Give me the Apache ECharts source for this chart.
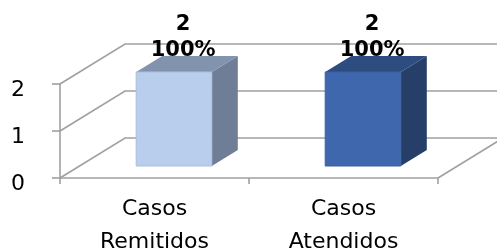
<!DOCTYPE html>
<html>
<head>
<meta charset="utf-8">
<script src="https://cdn.jsdelivr.net/npm/echarts@6/dist/echarts.min.js"></script>
<style>
  html, body { margin: 0; padding: 0; background: #fff; }
  #chart { width: 497px; height: 252px; }
</style>
</head>
<body>
<div id="chart"></div>
<script>
var categories = ['Casos Remitidos', 'Casos Atendidos'];
var values = [2, 2];
var percents = ['100%', '100%'];
var yTicks = [0, 1, 2];

// colores de cada barra: frente, lado, tapa
var frontColors = ['#b9cdec', '#3e67ad'];
var sideColors = ['#6f7e96', '#263f69'];
var topColors = ['#8293ae', '#2d4c7f'];

// desplazamiento de la pared del fondo (perspectiva)
var DX = 65, DY = -40;
var gridColor = '#a0a0a0';

var myChart = echarts.init(document.getElementById('chart'));

function renderWall(params, api) {
  var v = api.value(1);
  var y = api.coord([0, v])[1];
  var cs = params.coordSys;
  var L = cs.x, R = cs.x + cs.width;
  var children = [{
    type: 'polyline',
    shape: { points: [[L, y], [L + DX, y + DY], [R + DX, y + DY]] },
    style: { stroke: gridColor, lineWidth: 1.6, fill: null }
  }];
  if (v === 0) {
    children.push({
      type: 'line',
      shape: { x1: R, y1: y, x2: R + DX, y2: y + DY },
      style: { stroke: gridColor, lineWidth: 1.6 }
    });
  }
  return { type: 'group', children: children };
}

function renderBar(params, api) {
  var i = api.value(0);
  var base = api.coord([i, 0]);
  var top = api.coord([i, api.value(1)]);
  var band = api.size([1, 0])[0];
  var w = band * 0.4;
  var f0 = 0.3, d = 0.4;
  var x0 = base[0] - w / 2 + DX * f0, x1 = x0 + w;
  var yb = base[1] + DY * f0, yt = top[1] + DY * f0;
  var ox = DX * d, oy = DY * d;
  var idx = params.dataIndex;
  return {
    type: 'group',
    children: [
      {
        type: 'polygon',
        shape: { points: [[x1, yt], [x1 + ox, yt + oy], [x1 + ox, yb + oy], [x1, yb]] },
        style: { fill: sideColors[idx] }
      },
      {
        type: 'polygon',
        shape: { points: [[x0, yt], [x1, yt], [x1 + ox, yt + oy], [x0 + ox, yt + oy]] },
        style: { fill: topColors[idx] }
      },
      {
        type: 'rect',
        shape: { x: x0, y: yt, width: w, height: yb - yt },
        style: { fill: frontColors[idx], stroke: idx === 0 ? '#a9bddc' : '#3a60a0', lineWidth: 1 }
      },
      {
        type: 'text',
        x: (x0 + x1) / 2 + DX * 0.14,
        y: yt - 8,
        style: {
          text: values[idx] + '\n' + percents[idx],
          fill: '#000',
          font: 'bold 21px "DejaVu Sans"',
          lineHeight: 26,
          align: 'center',
          verticalAlign: 'bottom'
        }
      }
    ]
  };
}

var option = {
  backgroundColor: '#fff',
  animation: false,
  grid: { left: 60, right: 59, top: 84, bottom: 74, outerBoundsMode: 'none', containLabel: false },
  xAxis: {
    type: 'category',
    data: categories,
    axisLine: { lineStyle: { color: gridColor, width: 1.6 } },
    axisTick: { show: true, length: 6, lineStyle: { color: gridColor, width: 1.6 } },
    axisLabel: {
      margin: 15,
      color: '#000',
      fontFamily: 'DejaVu Sans',
      fontSize: 22,
      lineHeight: 33,
      formatter: function (v) { return v.replace(' ', '\n'); }
    },
    splitLine: { show: false }
  },
  yAxis: {
    type: 'value',
    min: 0,
    max: 2,
    interval: 1,
    axisLine: { show: true, lineStyle: { color: gridColor, width: 1.6 } },
    axisTick: { show: true, length: 8, lineStyle: { color: gridColor, width: 1.6 } },
    axisLabel: {
      margin: 35,
      color: '#000',
      fontFamily: 'DejaVu Sans',
      fontSize: 22,
      verticalAlign: 'top',
      lineHeight: 12
    },
    splitLine: { show: false }
  },
  series: [
    {
      type: 'custom',
      name: 'pared',
      silent: true,
      z: 1,
      encode: { x: 0, y: 1 },
      data: yTicks.map(function (t) { return [0, t]; }),
      renderItem: renderWall
    },
    {
      type: 'custom',
      name: 'casos',
      z: 3,
      encode: { x: 0, y: 1 },
      data: values.map(function (v, i) { return [i, v]; }),
      renderItem: renderBar
    }
  ]
};

myChart.setOption(option);
</script>
</body>
</html>
